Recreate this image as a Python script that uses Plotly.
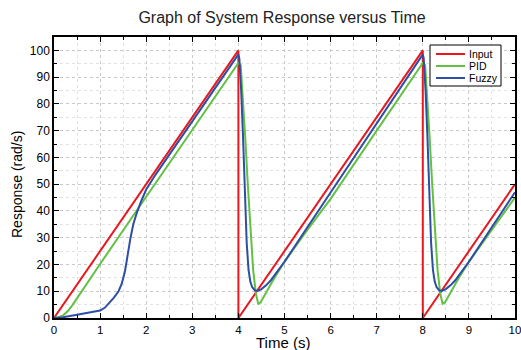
import plotly.graph_objects as go

# ---- data ----
t_input = [0, 4, 4, 8, 8, 10]
v_input = [0, 100, 0, 100, 0, 50]

t_pid = [0, 0.1, 0.2, 0.3, 0.4, 1.0, 2.0, 3.0, 4.0, 4.05, 4.1, 4.15, 4.2, 4.26, 4.32, 4.38, 4.43,
         4.48, 4.55, 4.62, 4.7, 4.8, 5.0, 5.5, 6.0, 7.0, 8.0, 8.05, 8.1, 8.15, 8.2, 8.26, 8.32,
         8.38, 8.43, 8.48, 8.55, 8.62, 8.7, 8.8, 9.0, 9.5, 10.0]
v_pid = [0, 0.3, 1.0, 2.6, 4.8, 20.2, 45.3, 70.3, 95.3, 94.5, 82, 67, 51, 32, 18, 9, 5.3,
         5.8, 7.8, 10.0, 12.5, 15.5, 21, 33, 44.5, 70, 95.3, 94.5, 82, 67, 51, 32, 18,
         9, 5.3, 5.8, 7.8, 10.0, 12.5, 15.5, 21, 33, 45]

t_fuzzy = [0, 0.2, 0.5, 0.8, 1.0, 1.1, 1.2, 1.3, 1.4, 1.47, 1.54, 1.6, 1.66, 1.72, 1.8, 1.9, 2.0,
           2.2, 2.5, 3.0, 4.0, 4.02, 4.06, 4.1, 4.14, 4.18, 4.22, 4.26, 4.3, 4.36, 4.42, 4.5,
           4.6, 4.7, 4.85, 5.0, 5.5, 6.0, 7.0, 8.0, 8.02, 8.06, 8.1, 8.14, 8.18, 8.22, 8.26,
           8.3, 8.36, 8.42, 8.5, 8.6, 8.7, 8.85, 9.0, 9.5, 10.0]
v_fuzzy = [0, 0.3, 1.2, 2.0, 2.8, 3.8, 5.6, 7.6, 10.0, 12.8, 17.5, 24, 30, 35, 39.5, 44, 48,
           53.5, 61, 73.5, 98.5, 97, 85, 68, 45, 28, 18, 13.5, 11.5, 10.3, 10.2, 10.8,
           12.2, 14, 17.5, 21, 34, 47, 72.5, 98.5, 97, 85, 68, 45, 28, 18, 13.5,
           11.5, 10.3, 10.2, 10.8, 12.2, 14, 17.5, 21, 34, 47]

x_ticks = [0, 1, 2, 3, 4, 5, 6, 7, 8, 9, 10]
y_ticks = [0, 10, 20, 30, 40, 50, 60, 70, 80, 90, 100]

series_names = ["Input", "PID", "Fuzzy"]

RED = "#e8181e"
GREEN = "#62c043"
BLUE = "#2e4ea6"
colors = [RED, GREEN, BLUE]

W, H = 521, 350
L, R, T, B = 54, 6, 37, 32
PW, PH = W - L - R, H - T - B


def px_x(p):
    return (p - L) / PW


def px_y(p):
    return (H - B - p) / PH


fig = go.Figure()
for tx, vy, nm, c in zip([t_input, t_pid, t_fuzzy], [v_input, v_pid, v_fuzzy], series_names, colors):
    fig.add_trace(go.Scatter(x=tx, y=vy, mode="lines", name=nm,
                             line=dict(color=c, width=2), showlegend=False))

font_family = "Liberation Sans, Arial, sans-serif"

# custom compact legend (box, line samples, labels)
shapes = [dict(type="rect", xref="paper", yref="paper",
               x0=px_x(430), x1=px_x(501), y0=px_y(86), y1=px_y(45),
               line=dict(color="black", width=1), fillcolor="white", layer="above")]
annotations = []
rows = [54, 66, 78]
for nm, c, ry in zip(series_names, colors, rows):
    shapes.append(dict(type="line", xref="paper", yref="paper",
                       x0=px_x(436), x1=px_x(465), y0=px_y(ry), y1=px_y(ry),
                       line=dict(color=c, width=2), layer="above"))
    annotations.append(dict(text=nm, xref="paper", yref="paper", x=px_x(467), y=px_y(ry),
                            xanchor="left", yanchor="middle", showarrow=False,
                            font=dict(size=10.5, color="black")))

# axis titles
annotations.append(dict(text="Time (s)", xref="paper", yref="paper", x=px_x(283), y=px_y(342),
                        xanchor="center", yanchor="middle", showarrow=False,
                        font=dict(size=15, color="black")))
annotations.append(dict(text="Response (rad/s)", xref="paper", yref="paper", x=px_x(17),
                        y=px_y(185), xanchor="center", yanchor="middle", showarrow=False,
                        textangle=-90, font=dict(size=14, color="black")))

fig.update_layout(
    width=W, height=H,
    margin=dict(l=L, r=R, t=T, b=B, autoexpand=False),
    paper_bgcolor="white", plot_bgcolor="white",
    font=dict(family=font_family, color="black"),
    title=dict(text="Graph of System Response versus Time", xref="container", x=282 / W,
               xanchor="center", y=1 - 17 / H, yanchor="middle",
               font=dict(size=16, color="#222222")),
    shapes=shapes, annotations=annotations,
    showlegend=False,
)

fig.update_xaxes(
    range=[0, 10], tickvals=x_ticks, ticktext=[str(v) for v in x_ticks],
    ticks="inside", ticklen=5, tickwidth=1, tickcolor="black",
    showline=True, linecolor="black", linewidth=1.5, mirror="allticks",
    showgrid=True, gridcolor="#c8c8c8", griddash="dot", gridwidth=1,
    minor=dict(dtick=0.5, ticks="inside", ticklen=3, tickcolor="black",
               showgrid=True, gridcolor="#e2e2e2", griddash="dot"),
    tickfont=dict(size=11.5), zeroline=False, automargin=False,
    ticklabeloverflow="allow",
)
fig.update_yaxes(
    range=[0, 105], tickvals=y_ticks, ticktext=[str(v) for v in y_ticks],
    ticks="inside", ticklen=5, tickwidth=1, tickcolor="black",
    showline=True, linecolor="black", linewidth=1.5, mirror="allticks",
    showgrid=True, gridcolor="#c8c8c8", griddash="dot", gridwidth=1,
    minor=dict(dtick=5, ticks="inside", ticklen=3, tickcolor="black",
               showgrid=True, gridcolor="#e2e2e2", griddash="dot"),
    tickfont=dict(size=12), zeroline=False, automargin=False,
    ticklabeloverflow="allow",
)

fig.write_html("out.html", config={"displayModeBar": False},
               post_script="document.body.style.margin='0';document.body.style.padding='0';")
